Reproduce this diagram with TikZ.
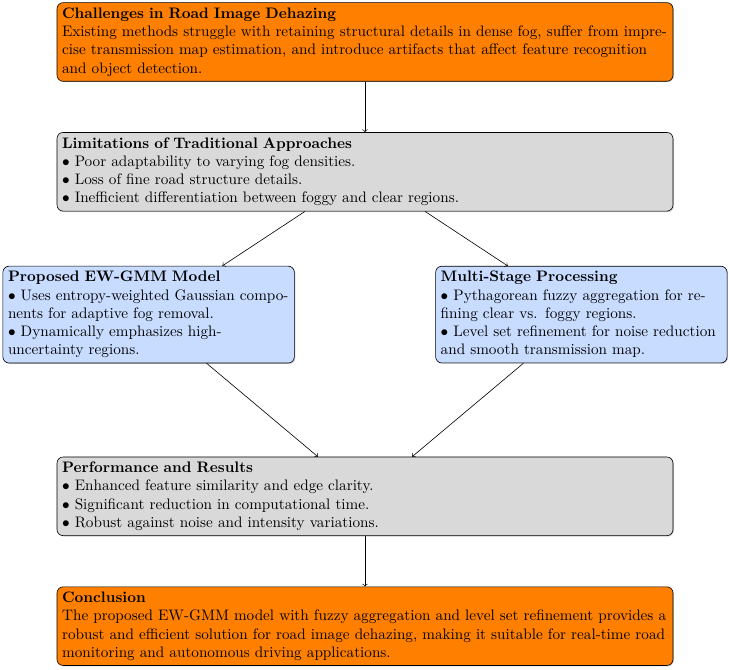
\documentclass[tikz,border=0pt]{standalone}
\usepackage{tikz}
\usetikzlibrary{shadows}
\definecolor{paleblue}{RGB}{200,220,255}
\tikzstyle{widebox} = [rectangle, draw, rounded corners, text width=14cm, align=left, drop shadow={shadow xshift=0.6pt, shadow yshift=-0.6pt, opacity=0.4}]
\tikzstyle{halfbox} = [rectangle, draw, rounded corners, text width=6.5cm, align=left, fill=paleblue, drop shadow={shadow xshift=0.6pt, shadow yshift=-0.6pt, opacity=0.4}]
\tikzstyle{arrow} = [->]

\begin{document}
\begin{tikzpicture}[node distance=3cm]
            \useasboundingbox (-240pt,27.6pt) rectangle (240pt,-412.9pt);
            \node (chal) [widebox, fill=orange] {
                \textbf{Challenges in Road Image Dehazing}\\
                Existing methods struggle with retaining structural details in dense fog, suffer from imprecise transmission map estimation, and introduce artifacts that affect feature recognition and object detection.
            };
            \node (limit) [widebox, fill=gray!30, below of = chal] {
                \textbf{Limitations of Traditional Approaches}\\
                $\bullet$ Poor adaptability to varying fog densities.\\
                $\bullet$ Loss of fine road structure details.\\
                $\bullet$ Inefficient differentiation between foggy and clear regions.
            };
            \node (model) [halfbox, below of = limit, yshift=-0.3cm, xshift=-5cm] {
                \textbf{Proposed EW-GMM Model}\\
                $\bullet$ Uses entropy-weighted Gaussian components for adaptive fog removal.\\
                $\bullet$ Dynamically emphasizes high-uncertainty regions.
            };
            \node (stage) [halfbox, below of = limit, yshift=-0.3cm, xshift=5cm] {
                \textbf{Multi-Stage Processing}\\
                $\bullet$ Pythagorean fuzzy aggregation for refining clear vs. foggy regions.\\
                $\bullet$ Level set refinement for noise reduction and smooth transmission map.
            };
            \node (perf) [widebox, fill=gray!30, below of = limit, yshift=-4.5cm] {
                \textbf{Performance and Results}\\
                $\bullet$ Enhanced feature similarity and edge clarity.\\
                $\bullet$ Significant reduction in computational time.\\
                $\bullet$ Robust against noise and intensity variations.
            };
            \node (concl) [widebox, fill=orange, below of = perf] {
                \textbf{Conclusion}\\
                The proposed EW-GMM model with fuzzy aggregation and level set refinement provides a robust and efficient solution for road image dehazing, making it suitable for real-time road monitoring and autonomous driving applications.
            };
            \draw [arrow] (chal) -- (limit);
            \draw [arrow] (limit) -- (model);
            \draw [arrow] (limit) -- (stage);
            \draw [arrow] (model) -- (perf);
            \draw [arrow] (stage) -- (perf);
            \draw [arrow] (perf) -- (concl);
        \end{tikzpicture}
\end{document}
